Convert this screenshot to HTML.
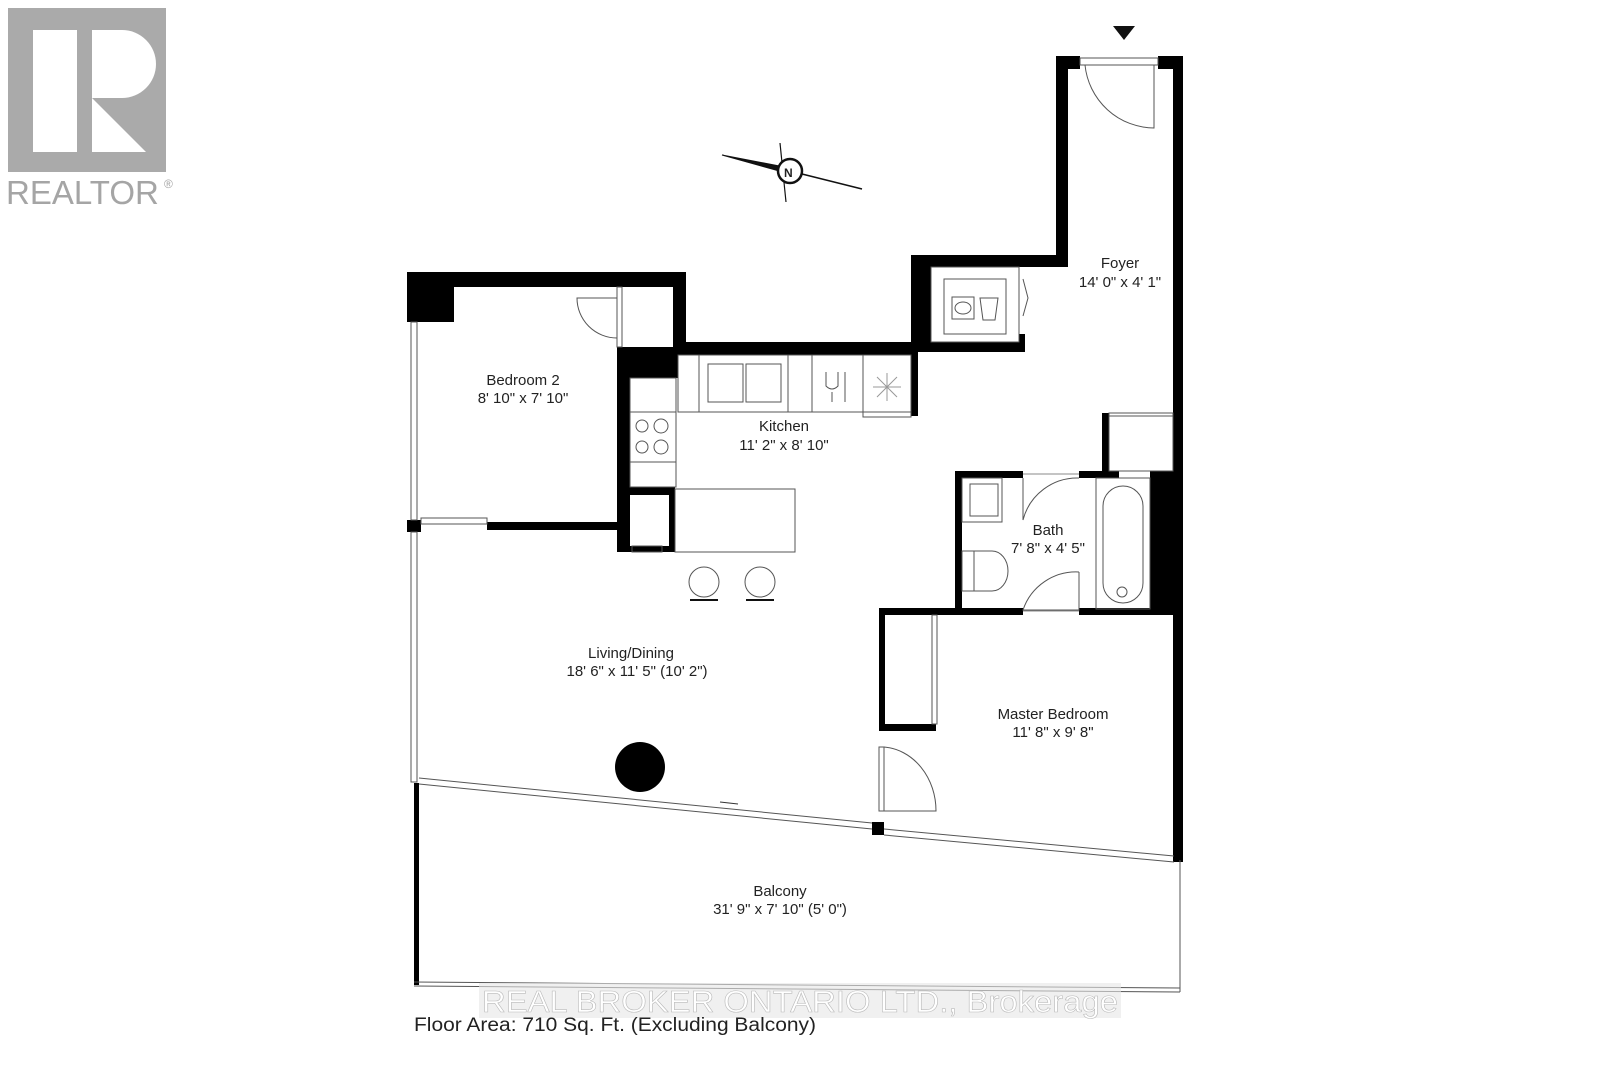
<!DOCTYPE html>
<html><head><meta charset="utf-8"><style>
html,body{margin:0;padding:0;background:#fff;}
svg{display:block;}
text{font-family:"Liberation Sans",Arial,sans-serif;fill:#222;}
</style></head><body>
<svg width="1600" height="1066" viewBox="0 0 1600 1066" xmlns="http://www.w3.org/2000/svg">
<!-- REALTOR logo -->
<rect x="8" y="8" width="158" height="164" fill="#aaa"/>
<rect x="33" y="30" width="44" height="122" fill="#fff"/>
<path d="M92 30 H122 A34 34 0 0 1 122 98 H92 Z" fill="#fff"/>
<path d="M92 98 L146 152 H92 Z" fill="#fff"/>
<text x="6" y="204" font-size="33" style="fill:#a5a5a5">REALTOR</text>
<text x="164" y="188" font-size="12" style="fill:#a5a5a5">®</text>

<!-- compass -->
<g stroke="#111" fill="#111">
<polygon points="722,155 790,168 790,174" />
<line x1="790" y1="171" x2="862" y2="189" stroke-width="1.5"/>
<line x1="780" y1="143" x2="786" y2="202" stroke-width="1.2"/>
<circle cx="790" cy="171" r="12" fill="#fff" stroke-width="2.5"/>
</g>
<text x="784" y="177" font-size="12" font-weight="bold">N</text>

<!-- entry arrow -->
<polygon points="1113,26 1135,26 1124,40" fill="#111"/>

<g fill="#000">
<rect x="407" y="272" width="279" height="15"/>
<rect x="407" y="272" width="47" height="50"/>
<rect x="673" y="272" width="13" height="76"/>
<rect x="617" y="347" width="61" height="31"/>
<rect x="676" y="342" width="242" height="13"/>
<rect x="617" y="347" width="13" height="205"/>
<rect x="911" y="342" width="7" height="74"/>
<rect x="630" y="487" width="45" height="8"/>
<rect x="669" y="487" width="6" height="65"/>
<rect x="630" y="546" width="45" height="6"/>
<rect x="487" y="522" width="130" height="8"/>
<rect x="407" y="520" width="14" height="12"/>
<rect x="1056" y="56" width="12" height="211"/>
<rect x="1056" y="56" width="24" height="13"/>
<rect x="1158" y="56" width="25" height="13"/>
<rect x="1173" y="56" width="10" height="806"/>
<rect x="911" y="255" width="157" height="12"/>
<rect x="911" y="255" width="20" height="97"/>
<rect x="918" y="342" width="107" height="10"/>
<rect x="1019" y="334" width="6" height="18"/>
<rect x="1102" y="413" width="7" height="62"/>
<rect x="955" y="471" width="68" height="7"/>
<rect x="1079" y="471" width="40" height="7"/>
<rect x="955" y="471" width="7" height="141"/>
<rect x="1150" y="471" width="33" height="141"/>
<rect x="879" y="608" width="144" height="7"/>
<rect x="1079" y="608" width="104" height="7"/>
<rect x="879" y="608" width="6" height="123"/>
<rect x="879" y="724" width="57" height="7"/>
<rect x="872" y="822" width="12" height="13"/>
<rect x="414" y="783" width="5" height="202"/>
<rect x="1174" y="850" width="9" height="12"/>
<circle cx="640" cy="767" r="25"/>
</g>

<g fill="none" stroke="#555" stroke-width="1">
<rect x="411" y="322" width="6" height="198"/>
<rect x="411" y="532" width="6" height="250"/>
<rect x="421" y="518" width="66" height="6"/>
<rect x="617" y="287" width="5" height="60"/>
<path d="M617 298 L577 298 A40 40 0 0 0 617 338"/>
<rect x="678" y="355" width="233" height="57"/>
<line x1="699" y1="355" x2="699" y2="412"/>
<line x1="788" y1="355" x2="788" y2="412"/>
<line x1="812" y1="355" x2="812" y2="412"/>
<line x1="863" y1="355" x2="863" y2="417"/>
<rect x="863" y="355" width="48" height="62"/>
<rect x="708" y="364" width="35" height="38"/>
<rect x="746" y="364" width="35" height="38"/>
<path d="M826 372 v14 q6 6 12 0 v-14 M832 392 v10 M845 372 v30"/>
<path d="M877 377 l20 20 M897 377 l-20 20 M887 373 v28 M873 387 h28" stroke="#999"/>
<rect x="630" y="378" width="46" height="34"/>
<rect x="630" y="412" width="46" height="50"/>
<circle cx="642" cy="426" r="6"/><circle cx="661" cy="426" r="7"/>
<circle cx="642" cy="447" r="6"/><circle cx="661" cy="447" r="7"/>
<rect x="630" y="462" width="46" height="25"/>
<rect x="675" y="489" width="120" height="63"/>
<rect x="632" y="546" width="30" height="6"/>
<circle cx="704" cy="582" r="15"/><circle cx="760" cy="582" r="15"/>
<line x1="690" y1="600" x2="718" y2="600" stroke="#111" stroke-width="2"/>
<line x1="746" y1="600" x2="774" y2="600" stroke="#111" stroke-width="2"/>
<rect x="1080" y="58" width="78" height="7"/>
<path d="M1154 65 V128 A70 70 0 0 1 1085 65"/>
<rect x="931" y="267" width="88" height="75"/>
<rect x="944" y="279" width="62" height="55"/>
<rect x="952" y="297" width="22" height="22"/>
<ellipse cx="963" cy="308" rx="8" ry="6"/>
<path d="M980 298 h18 l-3 22 h-12 z"/>
<path d="M1023 279 L1028 298 L1023 316"/>
<rect x="1109" y="413" width="64" height="58"/>
<line x1="1109" y1="416" x2="1173" y2="416"/>
<rect x="962" y="478" width="40" height="44"/>
<rect x="970" y="484" width="28" height="32"/>
<path d="M962 551 h12 v40 h-12 z M974 551 h18 a16 20 0 0 1 0 40 h-18"/>
<rect x="1096" y="478" width="54" height="131"/>
<rect x="1103" y="486" width="40" height="117" rx="20"/>
<circle cx="1122" cy="592" r="5"/>
<path d="M1023 478 V520 A56 56 0 0 1 1079 478" />
<path d="M1079 572 V610 H1023 A56 56 0 0 1 1079 572"/>
<line x1="1023" y1="474" x2="1079" y2="474" stroke="#888"/>
<line x1="1023" y1="611" x2="1079" y2="611" stroke="#888"/>
<rect x="932" y="615" width="5" height="109"/>
<rect x="879" y="747" width="5" height="64"/>
<path d="M884 747 A56 64 0 0 1 936 811 H884"/>
<path d="M419 778 L872 823 M419 784 L872 829"/>
<path d="M884 829 L1174 856 M884 835 L1174 862"/>
<path d="M414 982 L1180 988 M414 986 L1180 992"/>
<line x1="1180" y1="860" x2="1180" y2="992"/>
<line x1="720" y1="802" x2="738" y2="804" stroke="#333"/>
</g>

<g font-size="15" text-anchor="middle">
<text x="1120" y="268">Foyer</text>
<text x="1120" y="287">14' 0" x 4' 1"</text>
<text x="523" y="385">Bedroom 2</text>
<text x="523" y="403">8' 10" x 7' 10"</text>
<text x="784" y="431">Kitchen</text>
<text x="784" y="450">11' 2" x 8' 10"</text>
<text x="1048" y="535">Bath</text>
<text x="1048" y="553">7' 8" x 4' 5"</text>
<text x="631" y="658">Living/Dining</text>
<text x="637" y="676">18' 6" x 11' 5" (10' 2")</text>
<text x="1053" y="719">Master Bedroom</text>
<text x="1053" y="737">11' 8" x 9' 8"</text>
<text x="780" y="896">Balcony</text>
<text x="780" y="914">31' 9" x 7' 10" (5' 0")</text>
</g>
<rect x="479" y="983" width="642" height="35" fill="#e6e6e6" opacity="0.6"/>
<text x="482" y="1012" font-size="31" textLength="636" lengthAdjust="spacingAndGlyphs" style="fill:#fff;stroke:#bbb;stroke-width:0.6">REAL BROKER ONTARIO LTD., Brokerage</text>
<text x="414" y="1031" font-size="19" textLength="402" lengthAdjust="spacingAndGlyphs">Floor Area: 710 Sq. Ft. (Excluding Balcony)</text>
</svg>
</body></html>
